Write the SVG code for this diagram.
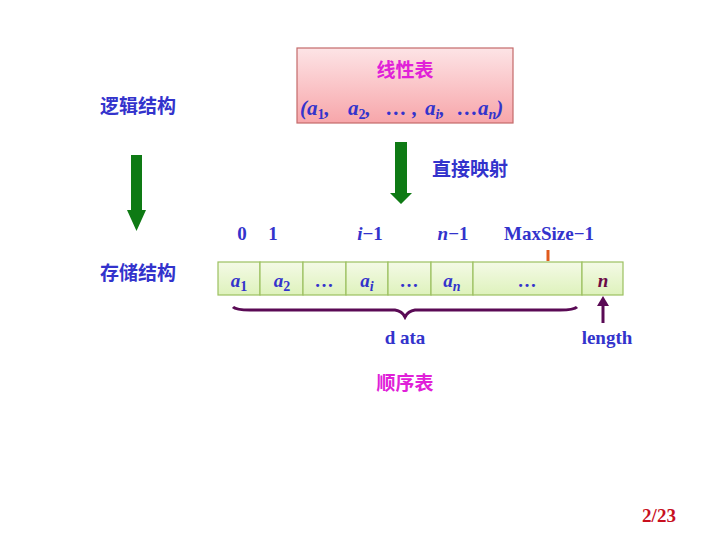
<svg xmlns="http://www.w3.org/2000/svg" width="720" height="540" viewBox="0 0 720 540">
<defs>
<linearGradient id="pink" x1="0" y1="0" x2="0" y2="1"><stop offset="0" stop-color="#fde4e6"/><stop offset="1" stop-color="#f7a6aa"/></linearGradient>
<linearGradient id="green" x1="0" y1="0" x2="0" y2="1"><stop offset="0" stop-color="#f4fae6"/><stop offset="1" stop-color="#def2bc"/></linearGradient>
</defs>
<style>
.cn{font-family:"Noto Sans CJK SC",sans-serif;font-weight:bold;font-size:19px;text-anchor:middle}
.blue{fill:#3333cc}
.mag{fill:#e020d8}
.sr{font-family:"Liberation Serif",serif;font-weight:bold;font-size:19px;text-anchor:middle;fill:#3333cc}
.f{font-family:"Liberation Serif",serif;font-weight:bold;font-size:21px;fill:#3333cc;font-style:italic}
.sub{font-size:14px}
.cell{fill:url(#green);stroke:#9cc060;stroke-width:1.2}
</style>
<rect width="720" height="540" fill="#ffffff"/>
<g id="linear-list">
<rect x="297" y="48" width="216" height="75" fill="url(#pink)" stroke="#c46a6a" stroke-width="1.2"/>
<text class="cn mag" x="405" y="77">线性表</text>
<text class="f" x="300" y="115">(a<tspan class="sub" font-style="normal" dy="4">1</tspan><tspan dy="-4">,</tspan></text>
<text class="f" x="348" y="115">a<tspan class="sub" font-style="normal" dy="4">2</tspan><tspan dy="-4">,</tspan></text>
<text class="f" x="386" y="115">… ,</text>
<text class="f" x="425" y="115">a<tspan class="sub" dy="4">i</tspan><tspan dy="-4">,</tspan></text>
<text class="f" x="457" y="115">…a<tspan class="sub" dy="4">n</tspan><tspan dy="-4">)</tspan></text>
</g>
<g id="labels">
<text class="cn blue" x="138" y="113">逻辑结构</text>
<text class="cn blue" x="138" y="280">存储结构</text>
<text class="cn blue" x="470" y="176">直接映射</text>
<text class="cn mag" x="405" y="390">顺序表</text>
<text x="659" y="522" font-family="Liberation Serif, serif" font-weight="bold" font-size="19" fill="#c8101e" text-anchor="middle">2/23</text>
</g>
<g id="indices">
<text class="sr" x="242" y="240">0</text>
<text class="sr" x="273" y="240">1</text>
<text class="sr" x="370" y="240"><tspan font-style="italic">i</tspan>−1</text>
<text class="sr" x="453" y="240"><tspan font-style="italic">n</tspan>−1</text>
<text class="sr" x="549" y="240">MaxSize−1</text>
</g>
<g id="array">
<rect class="cell" x="218" y="262" width="42" height="33"/>
<rect class="cell" x="260" y="262" width="43" height="33"/>
<rect class="cell" x="303" y="262" width="43" height="33"/>
<rect class="cell" x="346" y="262" width="42" height="33"/>
<rect class="cell" x="388" y="262" width="43" height="33"/>
<rect class="cell" x="431" y="262" width="42" height="33"/>
<rect class="cell" x="473" y="262" width="109" height="33"/>
<rect class="cell" x="582" y="262" width="41" height="33"/>
<text class="sr" x="239" y="287"><tspan font-style="italic">a</tspan><tspan class="sub" dy="4">1</tspan></text>
<text class="sr" x="282" y="287"><tspan font-style="italic">a</tspan><tspan class="sub" dy="4">2</tspan></text>
<text class="sr" x="324" y="287" font-size="14">…</text>
<text class="sr" x="367" y="287" font-style="italic">a<tspan class="sub" dy="4">i</tspan></text>
<text class="sr" x="409" y="287" font-size="14">…</text>
<text class="sr" x="452" y="287" font-style="italic">a<tspan class="sub" dy="4">n</tspan></text>
<text class="sr" x="527" y="287" font-size="14">…</text>
<text class="sr" x="603" y="287" font-style="italic" style="fill:#6a0a45">n</text>
</g>
<g id="connectors">
<path d="M131,155 H142 V210 H146 L136.5,231 L127,210 H131 Z" fill="#0e7a14"/>
<path d="M395,142 H407 V193 H412 L401,204 L390,193 H395 Z" fill="#0e7a14"/>
<line x1="548" y1="250" x2="548" y2="261" stroke="#e05a1c" stroke-width="3"/>
<line x1="603" y1="323" x2="603" y2="304" stroke="#5a0a55" stroke-width="3"/>
<path d="M597,306 L603,296 L609,306 Z" fill="#5a0a55"/>
<path d="M233,307 Q236,310 250,310 L395,310 Q402,311 405,317 Q408,311 415,310 L560,310 Q574,310 577,307" fill="none" stroke="#5a0a55" stroke-width="3"/>
<text class="sr" x="405" y="344">d ata</text>
<text class="sr" x="607" y="344">length</text>
</g>
</svg>
